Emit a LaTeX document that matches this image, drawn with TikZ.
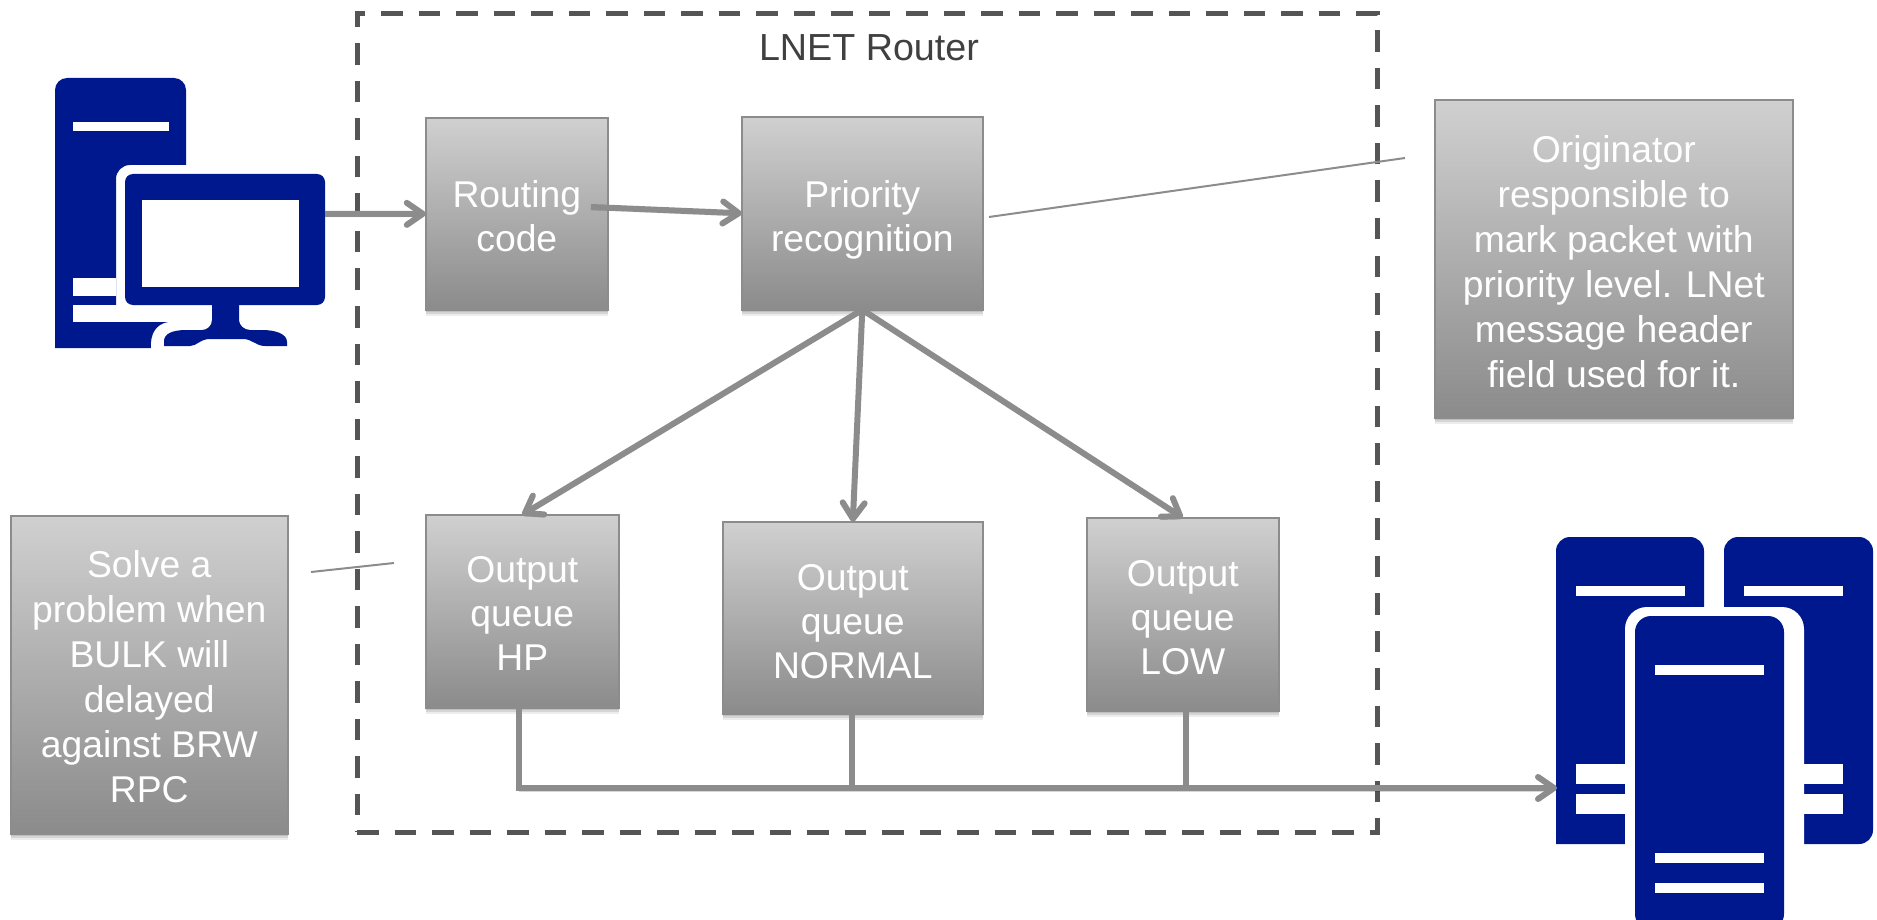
\documentclass[tikz,border=0pt]{standalone}
\usepackage{fontspec}
\setmainfont{Liberation Sans}
\usetikzlibrary{arrows.meta,shadows,calc}
\definecolor{iconblue}{HTML}{00188D}
\definecolor{linegray}{HTML}{8C8C8C}
\definecolor{boxedge}{HTML}{8C8C8C}
\definecolor{dashgray}{HTML}{555555}
\definecolor{boxtop}{HTML}{D0D0D0}
\definecolor{boxbot}{HTML}{8B8B8B}
\newcommand{\dn}[1]{\rule{0pt}{#1pt}}
\tikzset{
  box/.style={anchor=north west,rectangle,draw=boxedge,line width=1.6pt,outer sep=0pt,
    top color=boxtop,bottom color=boxbot,text=white,align=center,inner sep=0pt,
    font=\fontsize{37.3}{44}\selectfont,
    general shadow={shadow xshift=0pt,shadow yshift=-2pt,fill=black,opacity=.10},
    general shadow={shadow xshift=0pt,shadow yshift=-4pt,fill=black,opacity=.10},
    general shadow={shadow xshift=0pt,shadow yshift=-6pt,fill=black,opacity=.07}},
  tallbox/.style={font=\fontsize{37.3}{45}\selectfont},
  conn/.style={draw=linegray,line width=6pt,line join=miter,
    preaction={draw=black,opacity=.16,transform canvas={yshift=-3pt}}},
  tip/.style={-{Straight Barb[length=16pt,width=22pt,line width=6pt,round]}},
  thinline/.style={draw=linegray,line width=2pt},
  routerbox/.style={anchor=north west,draw=dashgray,line width=5pt,dash pattern=on 21.5pt off 16pt,inner sep=0pt,outer sep=0pt},
  routertitle/.style={text=black!75,font=\fontsize{37.7}{43.5}\selectfont,inner sep=0pt},
  icon/.style={fill=iconblue,draw=none},
  iconcut/.style={fill=white,draw=none}
}
\begin{document}
\begin{tikzpicture}[x=1pt,y=-1pt]
\useasboundingbox (0,0) rectangle (1877,920);
% router frame
\node[routerbox,minimum width=1020pt,minimum height=818pt] (router) at (357,14) {};
\node[routertitle] (rtitle) at (869,48) {LNET Router};
% computer icon
\path[icon] (55,348) -- (55,90) arc[start angle=180,end angle=270,radius=12] -- (174,78)
  arc[start angle=270,end angle=360,radius=12] -- (186,165) -- (130,165)
  arc[start angle=270,end angle=180,radius=14] -- (116,322) -- (168,322)
  .. controls (156,324) and (150,334) .. (151,348) -- cycle;
\path[iconcut] (73,122) rectangle (169,131);
\path[iconcut] (73,278) rectangle (116,296);
\path[iconcut] (73,305) rectangle (117,322);
\path[icon,rounded corners=8pt] (125,174) rectangle (325,305);
\path[iconcut] (142,200) rectangle (299,287);
\path[icon] (212,304) -- (212,320) .. controls (212,326) and (207,330) .. (202,330)
  -- (186,330) .. controls (172,330) and (164,334) .. (164,341) -- (164,346) -- (190,346)
  .. controls (197,346) and (200,339) .. (210,339) -- (243,339)
  .. controls (252,339) and (256,346) .. (265,346) -- (287,346) -- (287,342)
  .. controls (287,334) and (276,330) .. (262,330) -- (250,330)
  .. controls (244,330) and (239,325) .. (239,320) -- (239,304) -- cycle;
\coordinate (pc) at (325,214);
% server icons
\path[icon,rounded corners=14pt] (1556,844) -- (1556,537) -- (1704,537) -- (1704,844) [sharp corners] -- cycle;
\path[icon,rounded corners=14pt] (1724,844) -- (1724,537) -- (1873,537) -- (1873,844) [sharp corners] -- cycle;
\path[iconcut] (1576,586) rectangle (1685,596);
\path[iconcut] (1744,586) rectangle (1843,596);
\path[iconcut] (1576,764) rectangle (1843,784);
\path[iconcut] (1576,794) rectangle (1843,814);
\path[iconcut,rounded corners=22pt] (1625,930) -- (1625,607) -- (1804,607) -- (1804,930) -- cycle;
\path[icon,rounded corners=16pt] (1635,930) -- (1635,616) -- (1784,616) -- (1784,930) -- cycle;
\path[iconcut] (1655,665) rectangle (1764,675);
\path[iconcut] (1655,853) rectangle (1764,863);
\path[iconcut] (1655,883) rectangle (1764,893);
\coordinate (servers) at (1557,788);
% boxes
\node[box,minimum width=182pt,minimum height=192pt] (routing) at (425.8,117.8) {\dn{32}Routing\\code};
\node[box,minimum width=241pt,minimum height=193pt] (priority) at (741.8,116.8) {\dn{40}Priority\\recognition};
\node[box,tallbox,minimum width=358pt,minimum height=318pt] (orig) at (1434.8,99.8) {\dn{33}Originator\\responsible to\\mark packet with\\priority level. LNet\\message header\\field used for it.};
\node[box,tallbox,minimum width=277pt,minimum height=318pt] (solve) at (10.8,515.8) {\dn{30}Solve a\\problem when\\BULK will\\delayed\\against BRW\\RPC};
\node[box,minimum width=193pt,minimum height=193pt] (hp) at (425.8,514.8) {\dn{31}Output\\queue\\HP};
\node[box,minimum width=260pt,minimum height=192pt] (normal) at (722.8,521.8) {\dn{34}Output\\queue\\NORMAL};
\node[box,minimum width=192pt,minimum height=193pt] (low) at (1086.8,517.8) {\dn{32}Output\\queue\\LOW};
% connectors
\coordinate (rout) at (591,207);
\coordinate (busl) at (519,788);
\coordinate (busm) at (852,788);
\coordinate (busr) at (1186,788);
\draw[conn,tip] (pc) -- (routing.west);
\draw[conn,tip] (rout) -- (priority.west);
\draw[conn,tip] (priority.south) -- (hp.north);
\draw[conn,tip] (priority.south) -- (normal.north);
\draw[conn,tip] (priority.south) -- (low.north);
\draw[conn] (busm|-normal.south) -- (busm);
\draw[conn] (busr|-low.south) -- (busr);
\draw[conn,tip] (busl|-hp.south) -- (busl) -- (servers);
\coordinate (t1a) at (989,217);
\coordinate (t1b) at (1405,158);
\coordinate (t2a) at (311,572);
\coordinate (t2b) at (394,563);
\draw[thinline] (t1a) -- (t1b);
\draw[thinline] (t2a) -- (t2b);
\end{tikzpicture}
\end{document}
